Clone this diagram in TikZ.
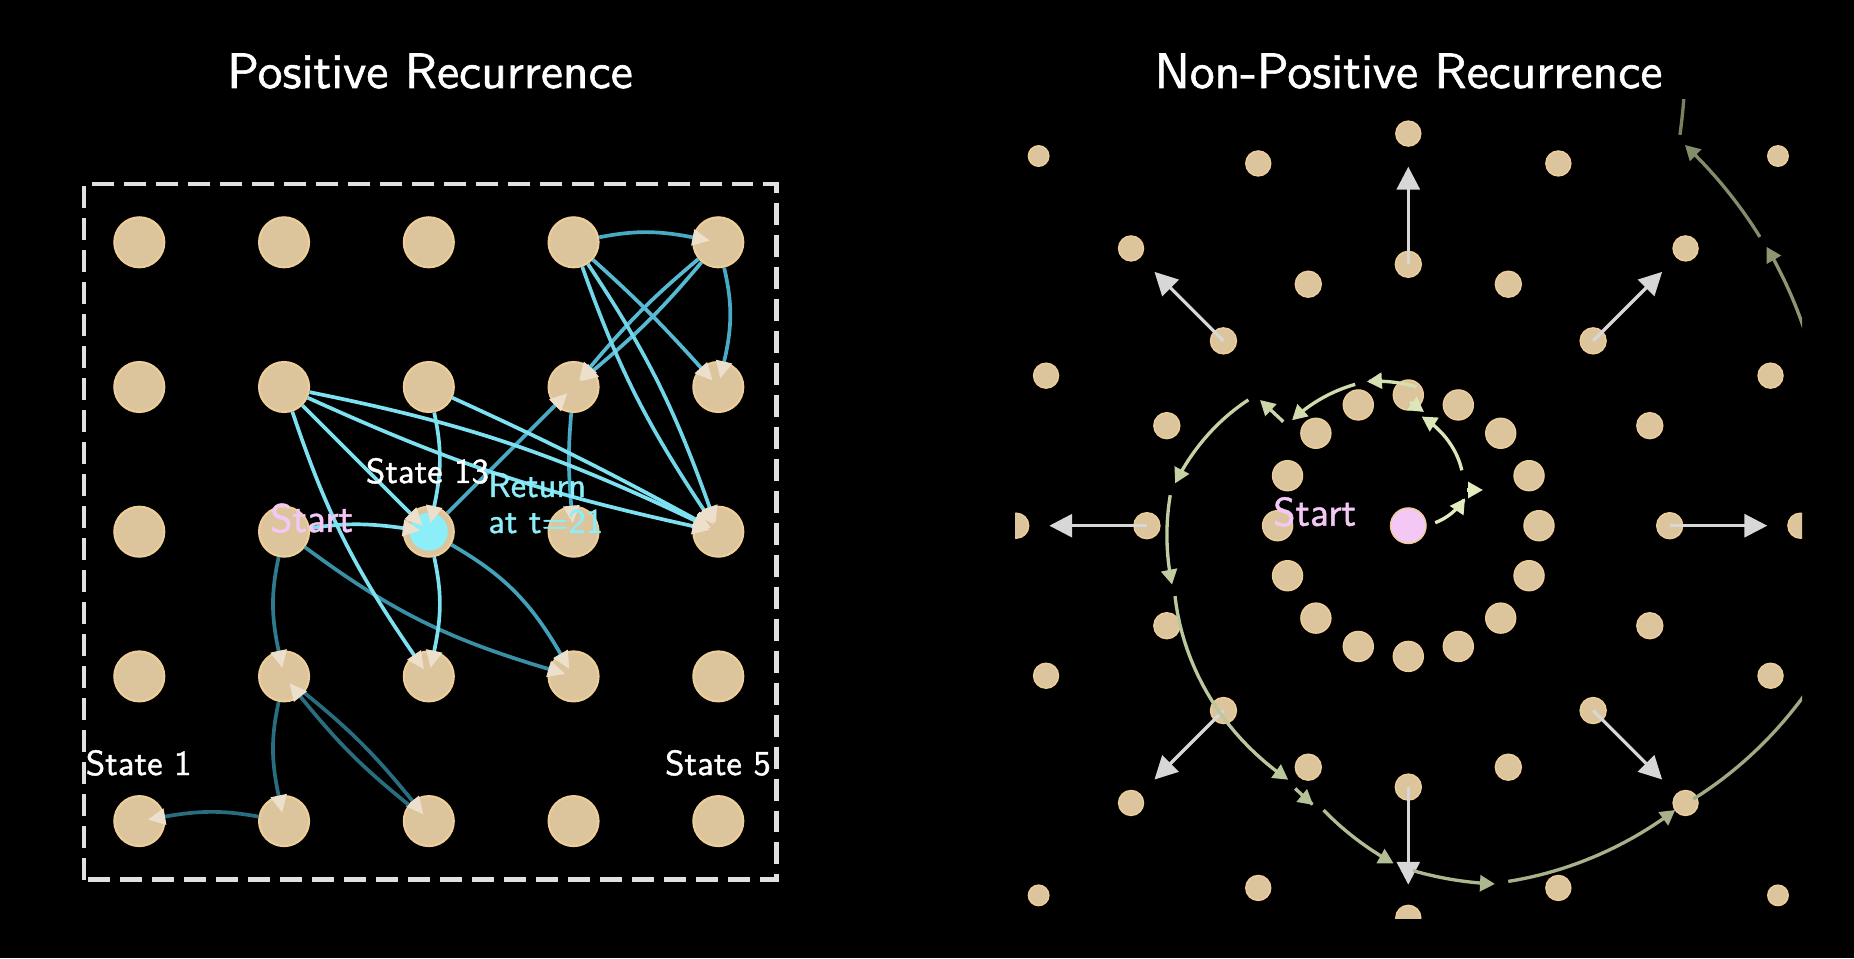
\documentclass[tikz,border=0pt]{standalone}
\usepackage{fontspec}
\setsansfont{lmsans10-regular.otf}[FakeBold=1.2]
\usetikzlibrary{arrows.meta,calc}

\definecolor{dotfill}{RGB}{220,196,156}
\definecolor{dotline}{RGB}{238,206,152}
\definecolor{tealdark}{RGB}{40,110,128}
\definecolor{tealmid}{RGB}{72,170,196}
\definecolor{cyanlite}{RGB}{125,225,242}
\definecolor{headpale}{RGB}{236,224,204}
\definecolor{startpink}{RGB}{244,200,244}
\definecolor{retcyan}{RGB}{140,238,248}
\definecolor{spilite}{RGB}{225,237,190}
\definecolor{spidark}{RGB}{100,110,78}
\definecolor{radgray}{RGB}{215,215,215}

\pgfdeclarelayer{behind}
\pgfsetlayers{behind,main}

% one piece of the spiral: colour mix, start angle, start radius, end angle, end radius
\newcommand\spiseg[5]{\draw[spiral,spilite!#1!spidark] plot[domain=#2:#4,samples=24,variable=\t] ({\t}:{#3+(\t-(#2))*((#5)-(#3))/((#4)-(#2))});}

\begin{document}
\begin{tikzpicture}[x=0.02cm,y=0.02cm,
    state/.style={circle,fill=dotfill,draw=dotline,line width=1.2pt,minimum size=1cm,inner sep=0pt},
    dot/.style={circle,fill=dotfill,draw=dotline,line width=0.8pt,inner sep=0pt},
    walk/.style={line width=2.1pt,shorten >=-10pt,-{Triangle[length=10pt,width=9pt,color=headpale]}},
    spiral/.style={line width=1.9pt,-{Triangle[length=8.5pt,width=9pt]}},
    radial/.style={radgray,line width=1.9pt,-{Triangle[length=13pt,width=13pt]}},
    ttl/.style={white,inner sep=0pt,font=\sffamily\fontsize{28.3}{34}\selectfont},
    lbl/.style={white,inner sep=0pt,font=\sffamily\fontsize{19.8}{22}\selectfont},
    startlbl/.style={startpink,inner sep=0pt,font=\sffamily\fontsize{22.7}{26}\selectfont},
    retlbl/.style={retcyan,inner sep=0pt,align=left,font=\sffamily\fontsize{19.7}{20.5}\selectfont}]

    % Background
    \fill[black] (0,0) rectangle (1854,958);
    \useasboundingbox (0,0) rectangle (1854,958);

    % Titles
    \node[ttl,anchor=base] (ttlpos) at (430,870) {Positive Recurrence};
    \node[ttl,anchor=base] (ttlnon) at (1408.5,870) {Non-Positive Recurrence};

    % Draw state grid
    \draw[white!88!black,line width=2.6pt,dash pattern=on 12.5pt off 5.7pt] (84,78.5) rectangle (776.5,774);
    \foreach \k in {1,...,5}
        \foreach \c in {1,...,5} {
            \pgfmathtruncatemacro\s{(\k-1)*5+\c}
            \node[state] (s\s) at ({139.3+(\c-1)*144.75},{136.9+(\k-1)*144.7}) {};
        }
    \fill[retcyan] (s13) circle (19);

    % Draw walk
    \draw[walk,tealdark] (s2) to[bend right=10] (s1);
    \draw[walk,tealdark] (s7) to[bend right=12] (s2);
    \draw[walk,tealdark!80!tealmid] (s12) to[bend right=12] (s7);
    \draw[walk,tealdark] (s7) to[bend left=6] (s3);
    \draw[walk,tealdark] (s3) to[bend left=6] (s7);
    \draw[walk,tealdark!45!tealmid] (s12) to[bend right=10] (s9);
    \draw[walk,tealmid!85!tealdark] (s13) to[bend left=15] (s9);
    \draw[walk,tealmid] (s13) to (s19);
    \begin{pgfonlayer}{behind}
        \draw[walk,tealmid] (s24) to[bend right=10] (s14);
        \draw[walk,cyanlite] (s13) to[bend left=9] (s15);
    \end{pgfonlayer}
    \draw[walk,tealmid] (s19) to[bend right=5] (s14);
    \draw[walk,tealmid] (s24) to[bend left=11] (s25);
    \draw[walk,tealmid] (s25) to[bend left=13] (s20);
    \draw[walk,tealmid!70!cyanlite] (s24) to[bend left=3] (s20);
    \draw[walk,tealmid!70!cyanlite] (s25) to[bend left=5] (s19);
    \draw[walk,tealmid!70!cyanlite] (s25) to[bend right=5] (s19);
    \draw[walk,cyanlite!80!tealmid] (s24) to[bend right=7] (s15);
    \draw[walk,cyanlite!80!tealmid] (s24) to[bend left=7] (s15);
    \draw[walk,cyanlite] (s12) to[bend left=8] (s13);
    \draw[walk,cyanlite] (s17) to (s13);
    \draw[walk,cyanlite] (s17) to[bend right=8] (s8);
    \draw[walk,cyanlite] (s13) to[bend left=12] (s8);
    \draw[walk,cyanlite] (s18) to[bend left=12] (s13);
    \draw[walk,cyanlite] (s17) to[bend left=7] (s15);
    \draw[walk,cyanlite] (s17) to[bend right=6] (s15);
    \draw[walk,cyanlite] (s18) to[bend left=2] (s15);

    % Add labels
    \node[lbl,anchor=base] (lab1) at (138.7,183) {State 1};
    \node[lbl,anchor=base] (lab5) at (718,183) {State 5};
    \node[lbl,anchor=base] (lab13) at (427.5,475) {State 13};
    \node[startlbl,anchor=base west] (startl) at (270,426) {Start};
    \node[retlbl,anchor=base west] (ret) at (488,425) {Return\\at t=21};

    % Draw rings of states
    \coordinate (ctr) at (1408.3,432.3);
    \begin{scope}
        \clip (1015,40) rectangle (1802,858);
        \foreach \i in {0,...,15} {
            \node[dot,minimum size=0.6cm] (a\i) at ($(ctr)+({\i*22.5}:130.7)$) {};
            \node[dot,minimum size=0.52cm] (b\i) at ($(ctr)+({\i*22.5}:261.4)$) {};
            \node[dot,minimum size=0.5cm] (c\i) at ($(ctr)+({\i*22.5}:392.1)$) {};
            \node[dot,minimum size=0.41cm] (d\i) at ($(ctr)+({\i*22.5}:522.8)$) {};
        }
        \node[dot,fill=startpink,minimum size=0.71cm] (home) at (ctr) {};

        % Drift outwards
        \foreach \i in {0,2,...,14} {
            \coordinate (tip\i) at ($(ctr)+({\i*22.5}:359)$);
            \draw[radial] (b\i.center) -- (tip\i);
        }

        % Draw spiral walk
        \begin{scope}[shift={(ctr)}]
            \spiseg{100}{6.4}{27}{25.8}{63}
            \spiseg{95}{46}{77}{83}{110}
            \spiseg{90}{86.6}{139}{106}{150}
            \spiseg{86}{110.6}{151}{137.8}{157}
            \spiseg{78}{141.8}{203.5}{169.7}{237}
            \spiseg{74}{172.7}{240}{194}{243.5}
            \spiseg{70}{196.8}{243.7}{244.7}{281}
            \spiseg{65}{246.7}{286}{251.2}{295}
            \spiseg{62}{253.4}{296.7}{267.5}{338}
            \spiseg{58}{270.8}{345}{283.6}{368.6}
            \spiseg{54}{285.7}{369.5}{313.2}{390}
            \spiseg{48}{316.2}{395}{345}{445}
            \spiseg{32}{375}{430}{397.9}{454}
            \spiseg{24}{399.4}{455}{414}{470.6}
            \spiseg{16}{415.2}{476}{418.5}{530}
        \end{scope}
        \draw[spiral,spilite] (1467,468) -- (1483,468);
        \draw[spiral,spilite!95!spidark] (1410,556) -- (1424,546);
        \draw[spiral,spilite!82!spidark] (1283.3,536.3) -- (1260,558);
    \end{scope}
    \node[startlbl,anchor=base west] (startr) at (1273,432.3) {Start};
\end{tikzpicture}
\end{document}
